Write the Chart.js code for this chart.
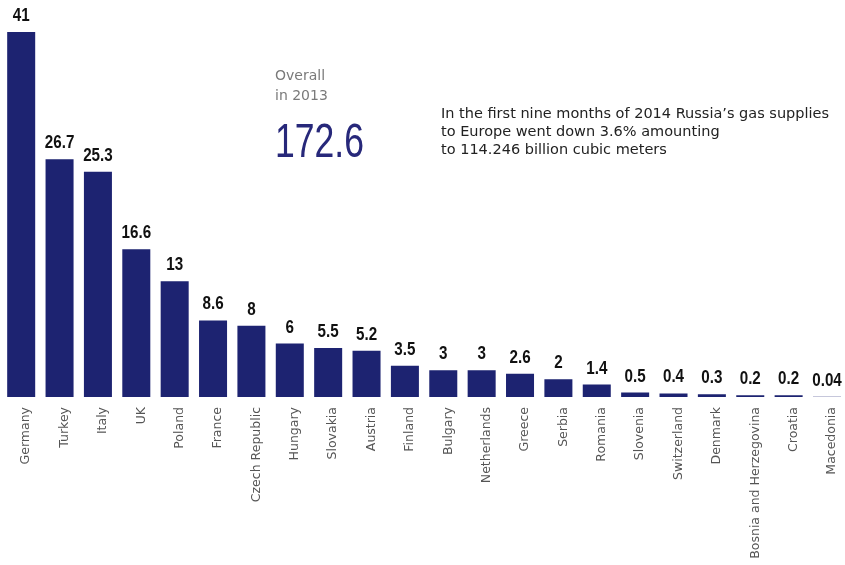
<!DOCTYPE html>
<html>
<head>
<meta charset="utf-8">
<script src="https://cdn.jsdelivr.net/npm/chart.js@4.4.1/dist/chart.umd.min.js"></script>
<style>
  html, body { margin: 0; padding: 0; background: #fff; overflow: hidden; }
  #wrap { width: 852px; height: 565px; }
</style>
</head>
<body>
<div id="wrap"><canvas id="chart" width="852" height="565"></canvas></div>
<script>
const countries = [
  "Germany", "Turkey", "Italy", "UK", "Poland", "France", "Czech Republic",
  "Hungary", "Slovakia", "Austria", "Finland", "Bulgary", "Netherlands",
  "Greece", "Serbia", "Romania", "Slovenia", "Switzerland", "Denmark",
  "Bosnia and Herzegovina", "Croatia", "Macedonia"
];
const supplies = [41, 26.7, 25.3, 16.6, 13, 8.6, 8, 6, 5.5, 5.2, 3.5, 3, 3, 2.6, 2, 1.4, 0.5, 0.4, 0.3, 0.2, 0.2, 0.04];
const overallLabel = ["Overall", "in 2013"];
const overallValue = "172.6";
const note = [
  "In the first nine months of 2014 Russia\u2019s gas supplies",
  "to Europe went down 3.6% amounting",
  "to 114.246 billion cubic meters"
];

const BAR_COLOR = "#1d2371";

// value labels above every bar (condensed look: squeeze horizontally)
const valueLabels = {
  id: "valueLabels",
  afterDatasetsDraw(chart) {
    const ctx = chart.ctx;
    const meta = chart.getDatasetMeta(0);
    ctx.save();
    ctx.font = "bold 19px 'Liberation Sans', sans-serif";
    ctx.fillStyle = "#111";
    ctx.textAlign = "center";
    ctx.textBaseline = "alphabetic";
    meta.data.forEach((bar, i) => {
      ctx.save();
      ctx.translate(bar.x, bar.y - 11);
      ctx.scale(0.8, 1);
      ctx.fillText(String(supplies[i]), 0, 0);
      ctx.restore();
    });
    ctx.restore();
  }
};

// annotation texts
const notes = {
  id: "notes",
  afterDraw(chart) {
    const ctx = chart.ctx;
    ctx.save();
    ctx.textAlign = "left";
    ctx.textBaseline = "alphabetic";
    ctx.fillStyle = "#7a7a7a";
    ctx.font = "14px 'DejaVu Sans', sans-serif";
    ctx.fillText(overallLabel[0], 275, 80);
    ctx.fillText(overallLabel[1], 275, 100);

    ctx.save();
    ctx.translate(275, 157);
    ctx.scale(0.74, 1);
    ctx.fillStyle = "#27287a";
    ctx.font = "48px 'Liberation Sans', sans-serif";
    ctx.fillText(overallValue, 0, 0);
    ctx.restore();

    ctx.fillStyle = "#222";
    ctx.font = "14.5px 'DejaVu Sans', sans-serif";
    note.forEach((line, i) => ctx.fillText(line, 441, 118 + i * 18));
    ctx.restore();
  }
};

new Chart(document.getElementById("chart"), {
  type: "bar",
  data: {
    labels: countries,
    datasets: [{
      data: supplies,
      backgroundColor: BAR_COLOR,
      barPercentage: 0.73,
      categoryPercentage: 1
    }]
  },
  options: {
    responsive: false,
    animation: false,
    layout: { padding: { top: 32, left: 2, right: 0, bottom: 0 } },
    plugins: { legend: { display: false }, tooltip: { enabled: false } },
    scales: {
      x: {
        grid: { display: false, drawTicks: false },
        border: { display: false },
        ticks: {
          autoSkip: false,
          minRotation: 90,
          maxRotation: 90,
          padding: 10,
          labelOffset: 5,
          color: "#555",
          font: { family: "'DejaVu Sans', sans-serif", size: 12.5 }
        },
        afterFit(axis) { axis.height = 168; }
      },
      y: {
        display: false,
        min: 0,
        max: 41
      }
    }
  },
  plugins: [valueLabels, notes]
});
</script>
</body>
</html>
